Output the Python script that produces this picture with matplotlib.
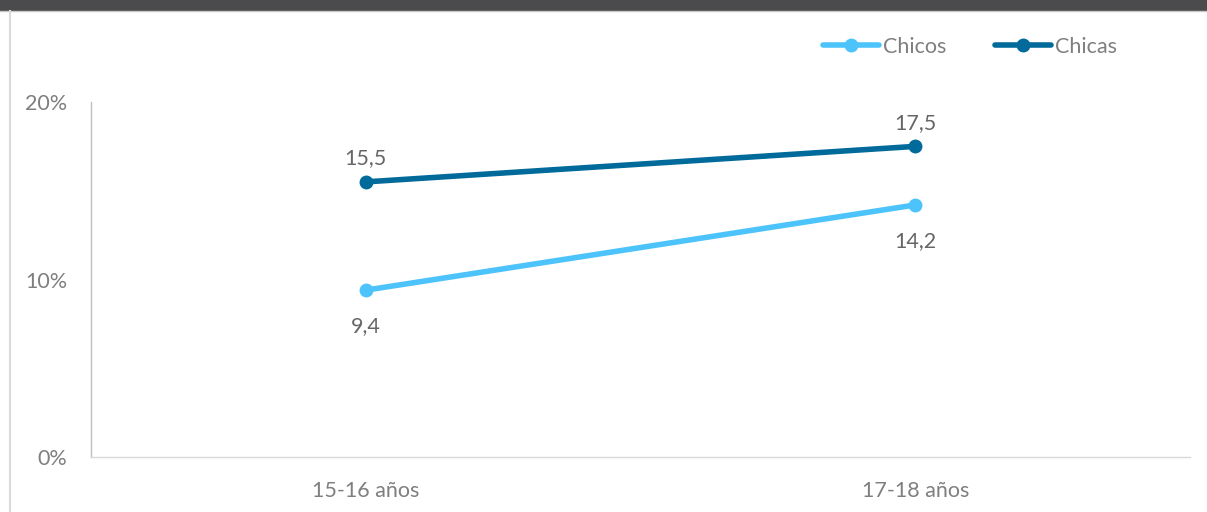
import matplotlib.pyplot as plt
from matplotlib.patches import Rectangle
from matplotlib.lines import Line2D

categories = ["15-16 años", "17-18 años"]
chicos = [9.4, 14.2]
chicas = [15.5, 17.5]
yticks = [0, 10, 20]

c_chicos = "#4cc4fb"
c_chicas = "#006a9b"
txt = "#7f7f7f"

plt.rcParams['font.family'] = ['Lato', 'DejaVu Sans']

fig = plt.figure(figsize=(12.07, 5.12), dpi=100)
W, H = 1207, 512

# marco superior oscuro y borde izquierdo
fig.patches.append(Rectangle((0, 1 - 10 / H), 1, 10 / H, transform=fig.transFigure,
                             color="#4b4b4d", zorder=0))
fig.add_artist(Line2D([0, 1], [1 - 11 / H, 1 - 11 / H], transform=fig.transFigure,
                      color="#c8c8c8", lw=1))
fig.add_artist(Line2D([9.5 / W, 9.5 / W], [0, 1 - 11 / H], transform=fig.transFigure,
                      color="#d9d9d9", lw=1.5))

ax = fig.add_axes([91 / W, 1 - 457 / H, (1190 - 91) / W, (457 - 102) / H])
x = range(len(categories))
ax.plot(x, chicos, color=c_chicos, lw=4, marker="o", ms=9, label="Chicos",
        solid_capstyle="round")
ax.plot(x, chicas, color=c_chicas, lw=4, marker="o", ms=9, label="Chicas",
        solid_capstyle="round")

for i, v in enumerate(chicos):
    ax.annotate(f"{v:.1f}".replace(".", ","), (i, v), xytext=(0, -26),
                textcoords="offset points", ha="center", va="center",
                color="#666666", fontsize=15.5)
for i, v in enumerate(chicas):
    ax.annotate(f"{v:.1f}".replace(".", ","), (i, v), xytext=(0, 17),
                textcoords="offset points", ha="center", va="center",
                color="#666666", fontsize=15.5)

ax.set_xlim(-0.5, 1.5)
ax.set_ylim(0, 20)
ax.set_xticks(list(x))
ax.set_xticklabels(categories)
ax.set_yticks(yticks)
ax.set_yticklabels([f"{t}%" for t in yticks])
ax.tick_params(length=0, colors=txt, labelsize=15.5)
ax.tick_params(axis="y", pad=17)
ax.tick_params(axis="x", pad=17)
for s in ["top", "right"]:
    ax.spines[s].set_visible(False)
ax.spines["left"].set_color("#bfbfbf")
ax.spines["bottom"].set_color("#d9d9d9")
ax.spines["left"].set_linewidth(1)
ax.spines["bottom"].set_linewidth(1)

leg = fig.legend(loc="center", bbox_to_anchor=(970 / W, 1 - 47 / H), ncol=2,
                 frameon=False, handlelength=2.6, handletextpad=0.15,
                 columnspacing=2.3, fontsize=15.5)
for t in leg.get_texts():
    t.set_color(txt)

fig.savefig("out.png", dpi=100)
